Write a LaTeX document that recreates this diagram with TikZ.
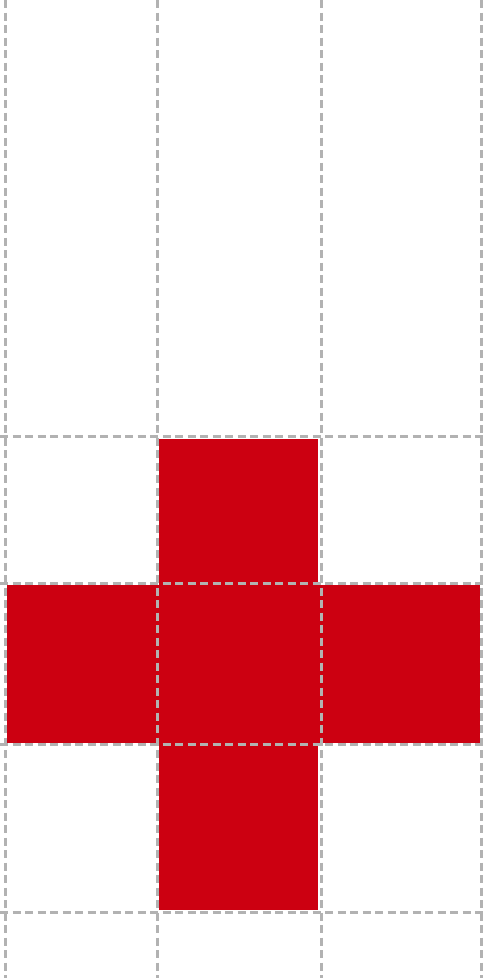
\documentclass[tikz,border=0pt]{standalone}
\definecolor{crossred}{RGB}{204,0,17}
\definecolor{gridgray}{RGB}{178,178,178}
\tikzset{
  gridline/.style={draw=gridgray, line width=3pt, dash pattern=on 8pt off 4.5pt},
  redblock/.style={fill=crossred, draw=none}
}
\begin{document}
\begin{tikzpicture}[x=1pt,y=-1pt]
\useasboundingbox (0,0) rectangle (484,978);
% red cross
\fill[redblock] (159,439) rectangle (318,586);
\fill[redblock] (7,585) rectangle (479.5,743);
\fill[redblock] (159,742) rectangle (318,909.5);
% vertical dashed lines
\foreach \x in {5,157.3,321,481.5}
  \draw[gridline] (\x,0) -- (\x,978);
% horizontal dashed lines
\foreach \y in {436,583.5,744.5,912}
  \draw[gridline] (0,\y) -- (484,\y);
\end{tikzpicture}
\end{document}
